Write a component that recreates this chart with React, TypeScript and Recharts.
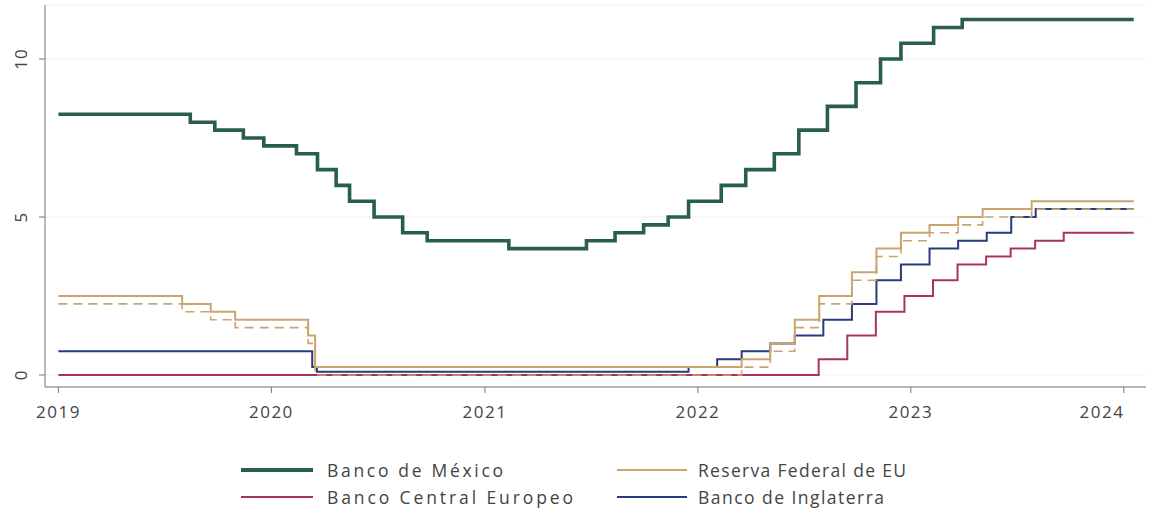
import React from 'react'
import { LineChart, Line, XAxis, YAxis, CartesianGrid, Legend } from 'recharts'

// policy rates, step changes (date, rate %)
const banxicoDates = ['2019-01-01','2019-08-15','2019-09-26','2019-11-14','2019-12-19','2020-02-13','2020-03-20','2020-04-21','2020-05-14','2020-06-25','2020-08-13','2020-09-24','2021-02-11','2021-06-24','2021-08-12','2021-09-30','2021-11-11','2021-12-16','2022-02-10','2022-03-24','2022-05-12','2022-06-23','2022-08-11','2022-09-29','2022-11-10','2022-12-15','2023-02-09','2023-03-30','2024-01-18']
const banxicoRates = [8.25,8.0,7.75,7.5,7.25,7.0,6.5,6.0,5.5,5.0,4.5,4.25,4.0,4.25,4.5,4.75,5.0,5.5,6.0,6.5,7.0,7.75,8.5,9.25,10.0,10.5,11.0,11.25,11.25]

const fedDates = ['2019-01-01','2019-08-01','2019-09-19','2019-10-31','2020-03-04','2020-03-16','2022-03-17','2022-05-05','2022-06-16','2022-07-28','2022-09-22','2022-11-03','2022-12-15','2023-02-02','2023-03-23','2023-05-04','2023-07-27','2024-01-18']
const fedUpper = [2.5,2.25,2.0,1.75,1.25,0.25,0.5,1.0,1.75,2.5,3.25,4.0,4.5,4.75,5.0,5.25,5.5,5.5]
const fedLower = [2.25,2.0,1.75,1.5,1.0,0.0,0.25,0.75,1.5,2.25,3.0,3.75,4.25,4.5,4.75,5.0,5.25,5.25]

const ecbDates = ['2019-01-01','2022-07-27','2022-09-14','2022-11-02','2022-12-21','2023-02-08','2023-03-22','2023-05-10','2023-06-21','2023-08-02','2023-09-20','2024-01-18']
const ecbRates = [0,0.5,1.25,2.0,2.5,3.0,3.5,3.75,4.0,4.25,4.5,4.5]

const boeDates = ['2019-01-01','2020-03-11','2020-03-19','2021-12-16','2022-02-03','2022-03-17','2022-05-05','2022-06-16','2022-08-04','2022-09-22','2022-11-03','2022-12-15','2023-02-02','2023-03-23','2023-05-11','2023-06-22','2023-08-03','2024-01-18']
const boeRates = [0.75,0.25,0.1,0.25,0.5,0.75,1.0,1.25,1.75,2.25,3.0,3.5,4.0,4.25,4.5,5.0,5.25,5.25]

const yearTicks = ['2019-01-01','2020-01-01','2021-01-01','2022-01-01','2023-01-01','2024-01-01']
const yTicks = [0, 5, 10]

const ts = (d: string) => Date.parse(d + 'T00:00:00Z')
const toRows = (dates: string[], vals: number[]) => dates.map((d, i) => ({ t: ts(d), v: vals[i] }))

const GREEN = '#285e4f'
const GOLD = '#c9a46c'
const RED = '#a8345a'
const BLUE = '#2a3a7c'
const FONT = '"Open Sans", sans-serif'

const xDomain = [ts('2018-12-09'), ts('2024-02-08')]

function YTick(props: any) {
  const { x, y, payload } = props
  return (
    <text x={x} y={y} transform={`rotate(-90, ${x}, ${y})`} textAnchor="middle" dominantBaseline="central"
      fill="#444" fontSize={17} letterSpacing={1} fontFamily={FONT}>{payload.value}</text>
  )
}

function XTick(props: any) {
  const { x, y, payload } = props
  return (
    <text x={x} y={y} dy="0.71em" textAnchor="middle" fill="#444" fontSize={17} letterSpacing={1.5} fontFamily={FONT}>
      {new Date(payload.value).getUTCFullYear()}
    </text>
  )
}

// legend entries (textLength = rendered width of the label)
const legendItems = [
  { name: 'Banco de México', color: GREEN, w: 4, col: 0, row: 0, len: 176 },
  { name: 'Reserva Federal de EU', color: GOLD, w: 2, col: 1, row: 0, len: 208 },
  { name: 'Banco Central Europeo', color: RED, w: 2, col: 0, row: 1, len: 246 },
  { name: 'Banco de Inglaterra', color: BLUE, w: 2, col: 1, row: 1, len: 186 },
]

function LegendBox() {
  const cols = [{ x1: 241, x2: 313, tx: 327 }, { x1: 617, x2: 687, tx: 698 }]
  const rows = [43, 70]
  return (
    <svg width={1154} height={87} style={{ display: 'block' }}>
      {legendItems.map(it => {
        const c = cols[it.col], y = rows[it.row]
        return (
          <g key={it.name}>
            <line x1={c.x1} x2={c.x2} y1={y} y2={y} stroke={it.color} strokeWidth={it.w} />
            <text x={c.tx} y={y} dominantBaseline="central" fill="#444" fontSize={17.5} fontFamily={FONT}
              textLength={it.len} lengthAdjust="spacing">{it.name}</text>
          </g>
        )
      })}
    </svg>
  )
}

export default function App() {
  return (
    <div style={{ position: 'absolute', left: 0, top: 0, background: '#fff' }}>
      <LineChart width={1154} height={514} margin={{ top: 5, right: 8, bottom: 0, left: 0 }}>
        <CartesianGrid horizontal vertical={false} stroke="#efefef" />
        <XAxis type="number" dataKey="t" domain={xDomain} ticks={yearTicks.map(ts)} allowDataOverflow
          height={40} tickSize={6} tickMargin={13} stroke="#777" tick={<XTick />} />
        <YAxis type="number" domain={[-0.38, 11.71]} ticks={yTicks} width={45} tickSize={6} tickMargin={18}
          stroke="#777" tick={<YTick />} allowDataOverflow />
        <Legend verticalAlign="bottom" content={() => <LegendBox />} />
        <Line data={toRows(ecbDates, ecbRates)} dataKey="v" type="stepAfter" stroke={RED} strokeWidth={2} dot={false} isAnimationActive={false} />
        <Line data={toRows(boeDates, boeRates)} dataKey="v" type="stepAfter" stroke={BLUE} strokeWidth={2} dot={false} isAnimationActive={false} />
        <Line data={toRows(fedDates, fedLower)} dataKey="v" type="stepAfter" stroke={GOLD} strokeWidth={1.6} strokeDasharray="9 6" dot={false} isAnimationActive={false} />
        <Line data={toRows(fedDates, fedUpper)} dataKey="v" type="stepAfter" stroke={GOLD} strokeWidth={2} dot={false} isAnimationActive={false} />
        <Line data={toRows(banxicoDates, banxicoRates)} dataKey="v" type="stepAfter" stroke={GREEN} strokeWidth={3.6} dot={false} isAnimationActive={false} />
      </LineChart>
    </div>
  )
}
